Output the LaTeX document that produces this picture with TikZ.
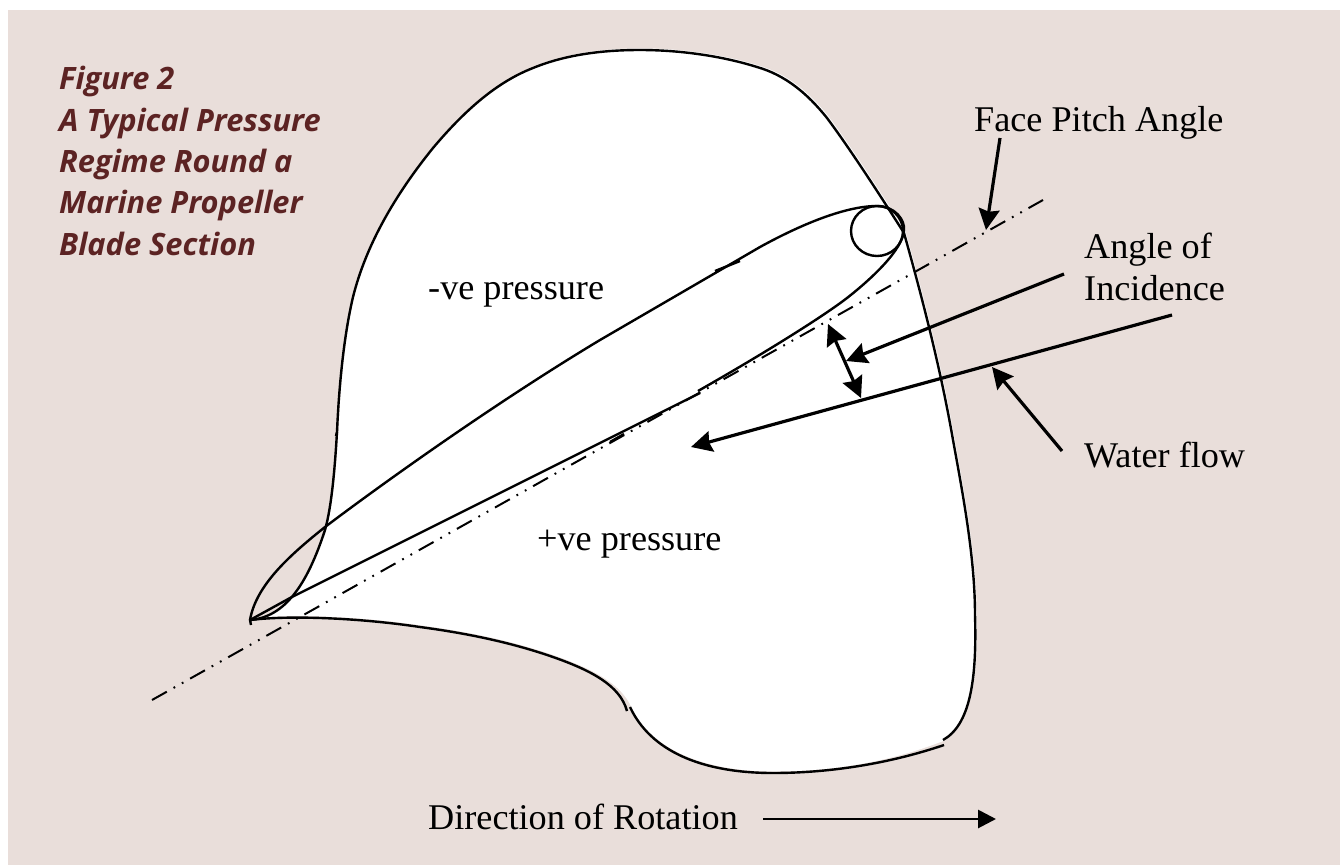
\documentclass[tikz,border=0pt]{standalone}
\usepackage{fontspec}
\setmainfont{Liberation Serif}
\newfontfamily\titlefont{Open Sans}
\usetikzlibrary{arrows.meta}
\definecolor{bgpink}{HTML}{E9DEDA}
\definecolor{titlered}{HTML}{5C2323}
\tikzset{
  outline/.style={line width=2.4pt,black,line join=round},
  flow/.style={line width=3.2pt,black,-{Stealth[length=21pt,width=21pt,inset=2.5pt]}},
  both/.style={line width=3.2pt,black,{Stealth[length=21pt,width=21pt,inset=2.5pt]}-{Stealth[length=21pt,width=21pt,inset=2.5pt]}},
  rotflow/.style={line width=2.8pt,black,-{Triangle[length=18pt,width=18pt]}},
  pitch/.style={line width=2pt,black,dash pattern=on 17pt off 7.7pt on 1.8pt off 7.7pt on 1.8pt off 7.7pt},
  lab/.style={anchor=base west,inner sep=0pt,font=\fontsize{36.2}{36.2}\selectfont,text=black},
  ttl/.style={anchor=base west,inner sep=0pt,font=\titlefont\bfseries\itshape\fontsize{30.8}{30.8}\selectfont,text=titlered},
}
\begin{document}
\begin{tikzpicture}[x=1pt,y=-1pt]
\useasboundingbox (0,0) rectangle (1340,865);
\fill[bgpink] (8,10) rectangle (1340,865);
% blade fill, slightly offset from its outline as in the scan
\fill[white,shift={(1.5,-1.5)}] (250,620)
  .. controls (285,617) and (307,585) .. (325,530)
  .. controls (332,505) and (335,465) .. (337,432)
  .. controls (339,385) and (344,335) .. (353,297)
  .. controls (366,245) and (395,195) .. (433,148)
  .. controls (465,110) and (497,82) .. (533,68)
  .. controls (567,54) and (605,50) .. (640,50)
  .. controls (680,50) and (722,56) .. (757,67)
  .. controls (785,75) and (807,93) .. (827,118)
  .. controls (848,146) and (878,192) .. (904,233)
  .. controls (920,290) and (940,365) .. (953,440)
  .. controls (964,500) and (975,560) .. (975,615)
  .. controls (977,680) and (970,725) .. (943,742)
  .. controls (885,765) and (825,773) .. (773,773)
  .. controls (700,773) and (650,750) .. (630,709)
  .. controls (620,685) and (590,670) .. (553,657)
  .. controls (510,642) and (465,633) .. (420,627)
  .. controls (360,618) and (290,615) .. (250,620) -- cycle;
% blade outline pieces
\draw[outline] (251,625) -- (250,620)
  .. controls (285,617) and (307,585) .. (325,530)
  .. controls (332,505) and (335,465) .. (337,432);
\draw[outline] (336,436) -- (337,432)
  .. controls (339,385) and (344,335) .. (353,297)
  .. controls (366,245) and (395,195) .. (433,148)
  .. controls (465,110) and (497,82) .. (533,68)
  .. controls (567,54) and (605,50) .. (640,50)
  .. controls (680,50) and (722,56) .. (757,67)
  .. controls (785,75) and (807,93) .. (827,118)
  .. controls (848,146) and (878,192) .. (904,233)
  .. controls (920,290) and (940,365) .. (953,440)
  .. controls (964,500) and (975,560) .. (975,615)
  .. controls (977,680) and (970,725) .. (943,740);
\draw[outline] (944,745)
  .. controls (885,765) and (825,773) .. (773,773)
  .. controls (700,773) and (650,750) .. (630,707);
\draw[outline] (627,711)
  .. controls (620,685) and (590,670) .. (553,657)
  .. controls (510,642) and (465,633) .. (420,627)
  .. controls (360,618) and (290,615) .. (250,620);
% section
\draw[outline] (250,620)
  .. controls (256,585) and (290,555) .. (325,527)
  .. controls (390,478) and (500,400) .. (600,340)
  -- (760,247)
  .. controls (800,225) and (845,206) .. (877,206)
  .. controls (895,206) and (905,220) .. (904,230)
  .. controls (903,250) and (870,280) .. (847,298)
  .. controls (825,315) and (770,350) .. (698,391);
\draw[outline] (700,393) -- (290,598) -- (250,620);
\draw[outline] (715,271) -- (740,261);
\draw[outline] (610,442) -- (624,434);
\draw[outline] (877,231) ellipse [x radius=26,y radius=25];
% pitch line
\coordinate (pa) at (152,700);
\coordinate (pb) at (1043,200);
\draw[pitch] (pa) -- (pb);
% labels
\node[ttl] (t1) at (59,89) {Figure 2};
\node[ttl] (t2) at (59,131) {A Typical Pressure};
\node[ttl] (t3) at (59,172) {Regime Round a};
\node[ttl] (t4) at (59,213) {Marine Propeller};
\node[ttl] (t5) at (59,255) {Blade Section};
\node[lab] (fpa) at (974,131) {Face Pitch Angle};
\node[lab] (aoi1) at (1084,258) {Angle of};
\node[lab] (aoi2) at (1084,300) {Incidence};
\node[lab] (wf) at (1084,467) {Water flow};
\node[lab] (neg) at (428,299) {-ve pressure};
\node[lab] (pos) at (537,550) {+ve pressure};
\node[lab] (dir) at (428,829) {Direction of Rotation};
% arrows
\coordinate (a1s) at (1000,138); \coordinate (a1e) at (986,230);
\coordinate (a2s) at (1064,274); \coordinate (a2e) at (846,361);
\coordinate (a3s) at (828,324); \coordinate (a3e) at (861,398);
\coordinate (a4s) at (1172,315); \coordinate (a4e) at (691,447);
\coordinate (a5s) at (1062,451); \coordinate (a5e) at (992,367);
\coordinate (a6s) at (763,819); \coordinate (a6e) at (996,819);
\draw[flow] (a1s) -- (a1e);
\draw[flow] (a2s) -- (a2e);
\draw[both] (a3s) -- (a3e);
\draw[flow] (a4s) -- (a4e);
\draw[flow] (a5s) -- (a5e);
\draw[rotflow] (a6s) -- (a6e);
\end{tikzpicture}
\end{document}
